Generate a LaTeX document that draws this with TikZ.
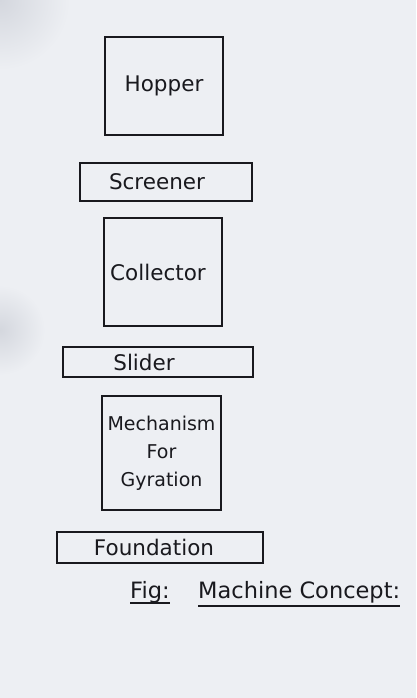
\documentclass[tikz,border=0pt]{standalone}
\usepackage{fontspec}
\setmainfont{DejaVu Sans}
\definecolor{paper}{RGB}{237,239,243}
\definecolor{shade}{RGB}{212,215,222}
\definecolor{ink}{RGB}{25,25,30}

\begin{document}
\begin{tikzpicture}[x=1pt,y=-1pt,
    part/.style={draw=ink,line width=1.8pt,text=ink,inner sep=0pt,
      font=\fontsize{21.5}{28}\selectfont},
    caption/.style={text=ink,inner sep=0pt,anchor=base west,
      font=\fontsize{22.5}{26}\selectfont}]
  \useasboundingbox (0,0) rectangle (416,698);
  \begin{scope}
    \clip (0,0) rectangle (416,698);
    \fill[paper] (0,0) rectangle (416,698);
    \shade[inner color=shade,outer color=paper] (0,0) circle (70pt);
    \shade[inner color=shade,outer color=paper] (0,330) circle (45pt);
  \end{scope}

  \node[part,minimum width=118pt,minimum height=98pt]  (hopper)    at (164,86)    {Hopper};
  \node[part,minimum width=172pt,minimum height=38pt]  (screener)  at (166,182)   {Screener\kern18pt};
  \node[part,minimum width=118pt,minimum height=108pt] (collector) at (163,272)   {Collector\kern10pt};
  \node[part,minimum width=190pt,minimum height=30pt]  (slider)    at (158,362)   {Slider\kern28pt};
  \node[part,minimum width=119pt,minimum height=114pt,align=center,
        font=\fontsize{19}{28}\selectfont]              (mechanism) at (161.5,453) {Mechanism\\For\\Gyration};
  \node[part,minimum width=206pt,minimum height=31pt]  (foundation) at (160,547.5) {Foundation\kern12pt};

  \node[caption] (fig)     at (130,598) {Fig:};
  \node[caption] (concept) at (198,598) {Machine Concept:};
  \draw[ink,line width=1.2pt] ([yshift=-5pt]fig.base west) -- ([yshift=-5pt]fig.base east);
  \draw[ink,line width=1.2pt] ([yshift=-8pt]concept.base west) -- ([yshift=-8pt]concept.base east);
\end{tikzpicture}
\end{document}
